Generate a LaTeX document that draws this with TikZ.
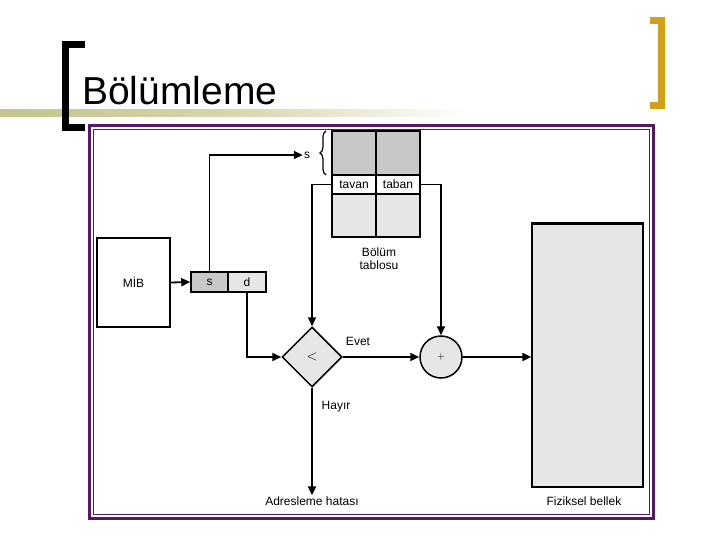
\documentclass[tikz,border=0pt]{standalone}
\usepackage{fontspec}
\setmainfont{Liberation Sans}
\usetikzlibrary{shapes.geometric,arrows.meta,decorations.pathreplacing}
\definecolor{framepurple}{RGB}{92,22,104}
\definecolor{bracketgold}{RGB}{212,160,23}
\definecolor{barolive}{RGB}{196,196,140}
\definecolor{darkcell}{RGB}{200,200,200}
\definecolor{lightcell}{RGB}{230,230,230}
\tikzset{
  arr/.style={-{Triangle[length=9pt,width=8pt]},line width=1.8pt},
  cell/.style={draw,line width=1.5pt,inner sep=0pt,font=\fontsize{12}{13}\selectfont},
  lbl/.style={inner sep=1pt,font=\fontsize{12}{13}\selectfont}
}
\begin{document}
\begin{tikzpicture}[x=1pt,y=-1pt]
\useasboundingbox (0,0) rectangle (720,540);
% title bar and brackets
\shade[left color=barolive,right color=white,middle color=barolive!70] (0,110) rectangle (470,117);
\draw[line width=7pt] (85,44.5) -- (65.5,44.5) -- (65.5,127.5) -- (85,127.5);
\draw[bracketgold,line width=7pt] (650,20.5) -- (661.5,20.5) -- (661.5,105.5) -- (650,105.5);
\node[anchor=base west,inner sep=0pt,font=\fontsize{39}{41}\selectfont] (title) at (82,105) {Bölümleme};
% purple frame
\draw[framepurple,line width=3pt] (89.5,125.5) rectangle (653.5,518.5);
\draw[framepurple,line width=1pt] (93.5,129.5) rectangle (649.5,514.5);

% segment table
\node[cell,fill=darkcell,minimum width=44,minimum height=44] (tl) at (354,153) {};
\node[cell,fill=darkcell,minimum width=44,minimum height=44] (tr) at (398,153) {};
\node[cell,fill=white,minimum width=44,minimum height=19] (hl) at (354,184.5) {tavan};
\node[cell,fill=white,minimum width=44,minimum height=19] (hr) at (398,184.5) {taban};
\node[cell,fill=lightcell,minimum width=44,minimum height=43] (bl) at (354,215.5) {};
\node[cell,fill=lightcell,minimum width=44,minimum height=43] (br) at (398,215.5) {};
\draw[decorate,decoration={brace,amplitude=6pt},line width=1.2pt] (326,175) -- (326,131);
\node[lbl] (sl) at (307,155) {s};
\node[lbl,align=center,font=\fontsize{12}{13}\selectfont] (tname) at (379,259) {Bölüm\\tablosu};

% CPU and logical address
\node[draw,line width=1.5pt,minimum width=73,minimum height=89,font=\fontsize{12}{13}\selectfont] (mib) at (133.5,282.5) {MİB};
\node[cell,fill=darkcell,minimum width=37,minimum height=20] (s) at (209.5,282) {s};
\node[cell,fill=lightcell,minimum width=38,minimum height=20] (d) at (247,282) {d};

% compare and add
\node[draw,line width=1.5pt,diamond,fill=lightcell,minimum width=60,minimum height=60,inner sep=0pt,font=\fontsize{14}{14}\selectfont] (cmp) at (312,357) {$<$};
\node[draw,line width=1.5pt,circle,fill=lightcell,minimum size=42,inner sep=0pt] (add) at (441,357) {$+$};
\node[draw,line width=1.2pt,fill=lightcell,minimum width=111,minimum height=263] (mem) at (587.5,355.5) {};
\draw[line width=2.5pt] (mem.north west) -- (mem.north east);

\node[lbl] (evet) at (358,341) {Evet};
\node[lbl] (hayir) at (336,407) {Hayır};
\node[lbl] (errl) at (312,501) {Adresleme hatası};
\node[lbl] (meml) at (584,501) {Fiziksel bellek};

% connectors
\draw[arr] (mib.east) -- (s.west);
\draw[arr] (s.north) |- (sl.west);
\draw[arr] (d.south) |- (cmp.west);
\draw[arr] (hl.west) -| (cmp.north);
\draw[arr] (hr.east) -| (add.north);
\draw[arr] (cmp.east) -- (add.west);
\draw[arr] (add.east) -- (add.east -| mem.west);
\draw[arr] (cmp.south) -- (errl.north);
\end{tikzpicture}
\end{document}
